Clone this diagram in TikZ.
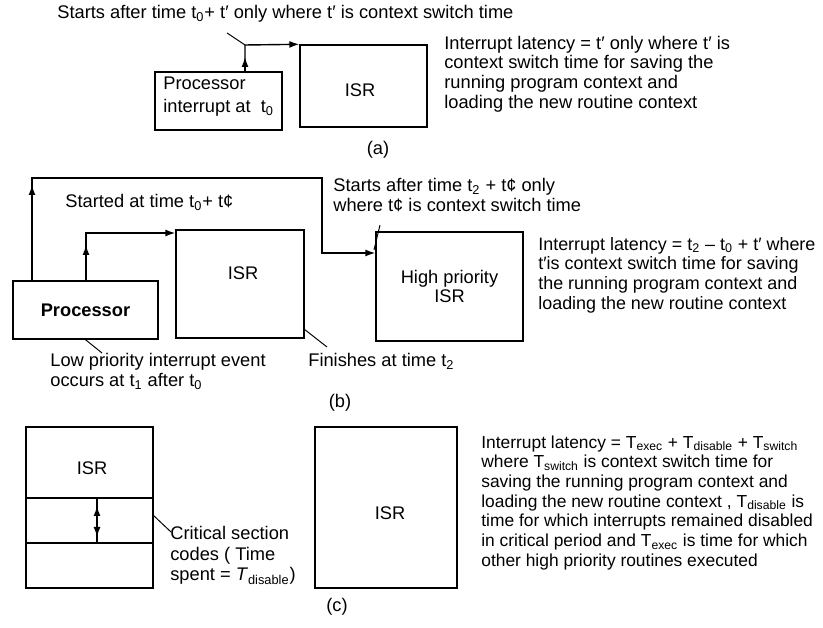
\documentclass[tikz,border=0pt]{standalone}
\usepackage{fontspec}
\setmainfont{Liberation Sans}
\usetikzlibrary{positioning,arrows.meta,calc}

\begin{document}
\begin{tikzpicture}[x=0.02cm, y=-0.02cm, >={Latex[length=2mm,width=1.4mm]},
  font=\fontsize{10.4}{11.2}\selectfont,
  blk/.style={draw, line width=0.8pt, inner sep=0pt},
  wire/.style={line width=0.8pt},
  lead/.style={line width=0.55pt},
  txt/.style={anchor=base west, align=left, inner sep=0pt}]
  \useasboundingbox (0,0) rectangle (823,628);
  % (a)
  \node[txt] (topA) at (57,19) {Starts after time t\textsubscript{0}+ t′ only where t′ is context switch time};
  \node[blk, minimum width=2.54cm, minimum height=1.16cm] (procA) at (218.5,101) {};
  \node[txt] at (163,112.5) {Processor\\[1.8pt]interrupt at\ \ t\textsubscript{0}};
  \node[blk, minimum width=2.54cm, minimum height=1.64cm] (isrA) at (363.5,86) {};
  \node at (360,90) {ISR};
  \coordinate (jA) at (245,45);
  \coordinate (lA) at (227,33);
  \draw[wire,->] (procA.north -| jA) -- ($(jA)+(0,12)$);
  \draw[wire,->] (procA.north -| jA) -- (jA) -- (isrA.north west);
  \draw[lead] (lA) -- (jA);
  \node[txt] (latA) at (444,108.3) {Interrupt latency = t′ only where t′ is\\context switch time for saving the\\running program context and\\loading the new routine context};
  \node (capA) at (378,150) {(a)};
  % (b)
  \node[blk, minimum width=2.9cm, minimum height=1.16cm] (procB) at (85.5,310) {\bfseries Processor};
  \node[blk, minimum width=2.56cm, minimum height=2.16cm] (isrB) at (240,284) {};
  \node at (243,273) {ISR};
  \node[blk, minimum width=2.94cm, minimum height=2.18cm, align=center] (hpB) at (449.5,286.5) {High priority\\ISR};
  \coordinate (o1) at (32,178);
  \coordinate (o2) at (322,178);
  \coordinate (o3) at (322,253);
  \draw[wire,->] (procB.north -| o1) -- ($(o1)+(0,7)$);
  \draw[wire,->] (procB.north -| o1) -- (o1) -- (o2) -- (o3) -- (o3 -| hpB.west);
  \coordinate (i1) at (86,233);
  \draw[wire,->] (procB.north -| i1) -- ($(i1)+(0,12)$);
  \draw[wire,->] (procB.north -| i1) -- (i1) -- (i1 -| isrB.west);
  \node[txt] (stdB) at (65,207.5) {Started at time t\textsubscript{0}+ t¢};
  \node[txt] (stB) at (333,211.3) {Starts after time t\textsubscript{2} + t¢ only\\where t¢ is context switch time};
  \coordinate (lB1) at (380,225);
  \coordinate (lB2) at (374,250);
  \draw[lead] (lB1) -- (lB2);
  \node[txt] (lowB) at (50,386.3) {Low priority interrupt event\\occurs at t\textsubscript{1} after t\textsubscript{0}};
  \coordinate (lB3) at (102,353);
  \draw[lead] (procB.south) -- (lB3);
  \node[txt] (finB) at (308,366.5) {Finishes at time t\textsubscript{2}};
  \coordinate (lB4) at (304,329);
  \coordinate (lB5) at (327,347);
  \draw[lead] (lB4) -- (lB5);
  \node[txt, font=\fontsize{10.2}{11.2}\selectfont] (latB) at (538,309.3) {Interrupt latency = t\textsubscript{2} – t\textsubscript{0} + t′ where\\t′is context switch time for saving\\the running program context and\\loading the new routine context};
  \node (capB) at (340,403) {(b)};
  % (c)
  \node[blk, minimum width=2.54cm, minimum height=1.42cm] (stk1) at (89.5,462.5) {};
  \node at (92,468) {ISR};
  \foreach \y/\n in {520.5/stk2, 565.5/stk3}
    \node[blk, minimum width=2.54cm, minimum height=0.9cm] (\n) at (89.5,\y) {};
  \coordinate (d1) at (97,498);
  \coordinate (d2) at (97,543);
  \draw[wire] (d1) -- (d2);
  \draw[wire,<->] ($(d1)+(0,8)$) -- ($(d2)+(0,-6)$);
  \coordinate (lC1) at (153,515);
  \coordinate (lC2) at (171,532);
  \draw[lead] (lC1) -- (lC2);
  \node[txt] (critC) at (170,581) {Critical section\\[0.7pt]codes ( Time\\[0.7pt]spent = \textit{T}\textsubscript{disable})};
  \node[blk, minimum width=2.84cm, minimum height=3.22cm] (isrC) at (386,507.5) {};
  \node at (390,513) {ISR};
  \node[txt, font=\fontsize{9.9}{11.2}\selectfont] (latC) at (481,566.1) {Interrupt latency = T\textsubscript{exec} + T\textsubscript{disable} + T\textsubscript{switch}\\where T\textsubscript{switch} is context switch time for\\saving the running program context and\\loading the new routine context , T\textsubscript{disable} is\\time for which interrupts remained disabled\\in critical period and T\textsubscript{exec} is time for which\\other high priority routines executed};
  \node (capC) at (337,607) {(c)};
\end{tikzpicture}
\end{document}
